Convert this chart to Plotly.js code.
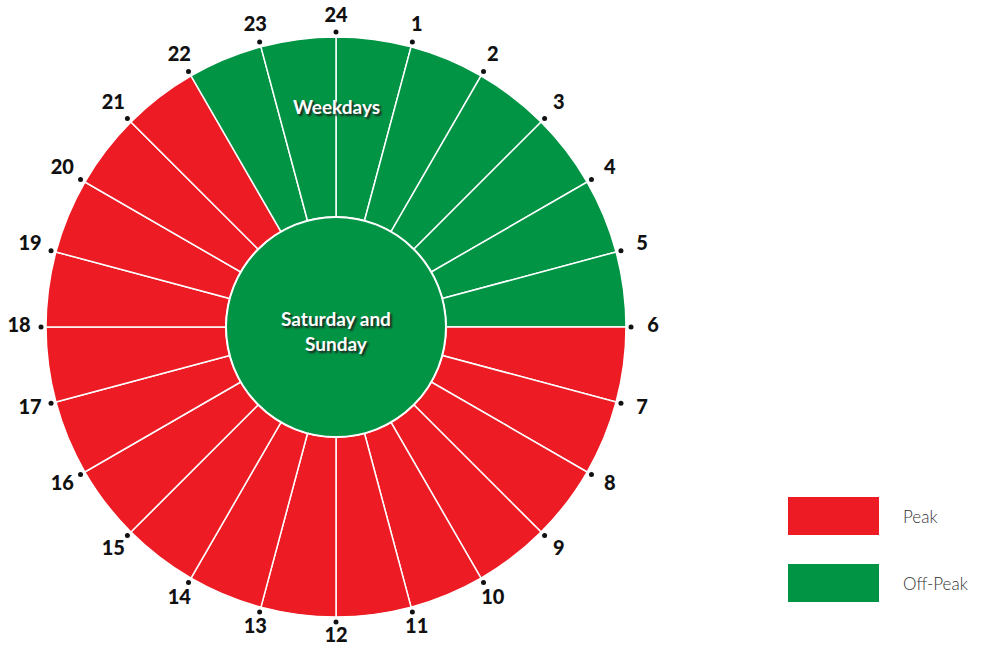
<!DOCTYPE html>
<html>
<head>
<meta charset="utf-8">
<script src="https://cdn.plot.ly/plotly-3.0.1.min.js"></script>
<style>html,body{margin:0;padding:0;background:#fff;}#chart{width:986px;height:647px;}</style>
</head>
<body>
<div id="chart"></div>
<script>
// ---- data ----
const hourLabels = ['24','1','2','3','4','5','6','7','8','9','10','11','12','13','14','15','16','17','18','19','20','21','22','23'];
const segmentStartHour = [0,1,2,3,4,5,6,7,8,9,10,11,12,13,14,15,16,17,18,19,20,21,22,23];
const weekdayTariff = ['Off-Peak','Off-Peak','Off-Peak','Off-Peak','Off-Peak','Off-Peak',
  'Peak','Peak','Peak','Peak','Peak','Peak','Peak','Peak','Peak','Peak','Peak','Peak','Peak','Peak','Peak','Peak',
  'Off-Peak','Off-Peak'];
const weekendTariff = 'Off-Peak';
const legendItems = ['Peak','Off-Peak'];

// ---- style ----
const RED = '#ED1C24', GREEN = '#009444';
const colorOf = t => t === 'Peak' ? RED : GREEN;
const OUTER = 290, INNER = 110;
const DEG = 360 / 24;
const FONT = 'Lato, "Open Sans", sans-serif';

const cx = 336, cy = 327, S = 320, W = 986, H = 647;
const labelTheta = hourLabels.map((_, i) => i * DEG);
const labelR = labelTheta.map(t => OUTER + 20 + 7 * Math.abs(Math.sin(t * Math.PI / 180)));

const traces = [
  {
    type: 'barpolar',
    theta: segmentStartHour.map(h => (h + 0.5) * DEG),
    r: segmentStartHour.map(() => OUTER - INNER),
    base: segmentStartHour.map(() => INNER),
    width: segmentStartHour.map(() => DEG),
    marker: {color: weekdayTariff.map(colorOf), line: {color: '#ffffff', width: 1.5}},
    hoverinfo: 'skip', showlegend: false
  },
  {
    type: 'barpolar',
    theta: [180], r: [INNER], base: [0], width: [360],
    marker: {color: [colorOf(weekendTariff)], line: {color: '#ffffff', width: 2}},
    hoverinfo: 'skip', showlegend: false
  },
  {
    type: 'scatterpolar', mode: 'markers',
    theta: labelTheta,
    r: hourLabels.map(() => OUTER + 5),
    marker: {color: '#111111', size: 5},
    hoverinfo: 'skip', showlegend: false, cliponaxis: false
  },
  {
    type: 'scatterpolar', mode: 'text',
    theta: labelTheta,
    r: labelR,
    text: hourLabels,
    textfont: {family: FONT, size: 20, color: '#111111', weight: 900},
    textposition: 'middle center',
    hoverinfo: 'skip', showlegend: false, cliponaxis: false
  }
];

const shapes = [];
const annotations = [
  {text: 'Weekdays', x: cx / W, y: 1 - 107 / H, xref: 'paper', yref: 'paper', showarrow: false,
   xanchor: 'center', yanchor: 'middle',
   font: {family: FONT, size: 19, color: '#ffffff', weight: 'bold', shadow: '2px 2px 2px #222'}},
  {text: 'Saturday and<br>Sunday', x: cx / W, y: 1 - 331 / H, xref: 'paper', yref: 'paper', showarrow: false,
   xanchor: 'center', yanchor: 'middle',
   font: {family: FONT, size: 19, color: '#ffffff', weight: 'bold', shadow: '2px 2px 2px #222'}}
];
const legendBoxTop = [497, 564];
legendItems.forEach((name, i) => {
  const y0 = legendBoxTop[i], y1 = y0 + 38;
  shapes.push({type: 'rect', xref: 'paper', yref: 'paper', x0: 788 / W, x1: 879 / W,
    y0: 1 - y1 / H, y1: 1 - y0 / H, fillcolor: colorOf(name), line: {width: 0}});
  annotations.push({text: name, xref: 'paper', yref: 'paper', x: 901 / W, y: 1 - (y0 + 19) / H,
    xanchor: 'left', yanchor: 'middle', showarrow: false,
    font: {family: FONT, size: 17, color: '#333333', weight: 300}});
});

const layout = {
  width: W, height: H,
  margin: {l: 0, r: 0, t: 0, b: 0},
  paper_bgcolor: '#ffffff', plot_bgcolor: '#ffffff',
  showlegend: false,
  polar: {
    domain: {x: [(cx - S) / W, (cx + S) / W], y: [(H - cy - S) / H, (H - cy + S) / H]},
    bgcolor: 'rgba(0,0,0,0)',
    radialaxis: {range: [0, S], visible: false, showgrid: false},
    angularaxis: {direction: 'clockwise', rotation: 90, visible: false, showgrid: false},
    bargap: 0
  },
  shapes: shapes,
  annotations: annotations
};

Plotly.newPlot('chart', traces, layout, {displayModeBar: false, staticPlot: true});
</script>
</body>
</html>
